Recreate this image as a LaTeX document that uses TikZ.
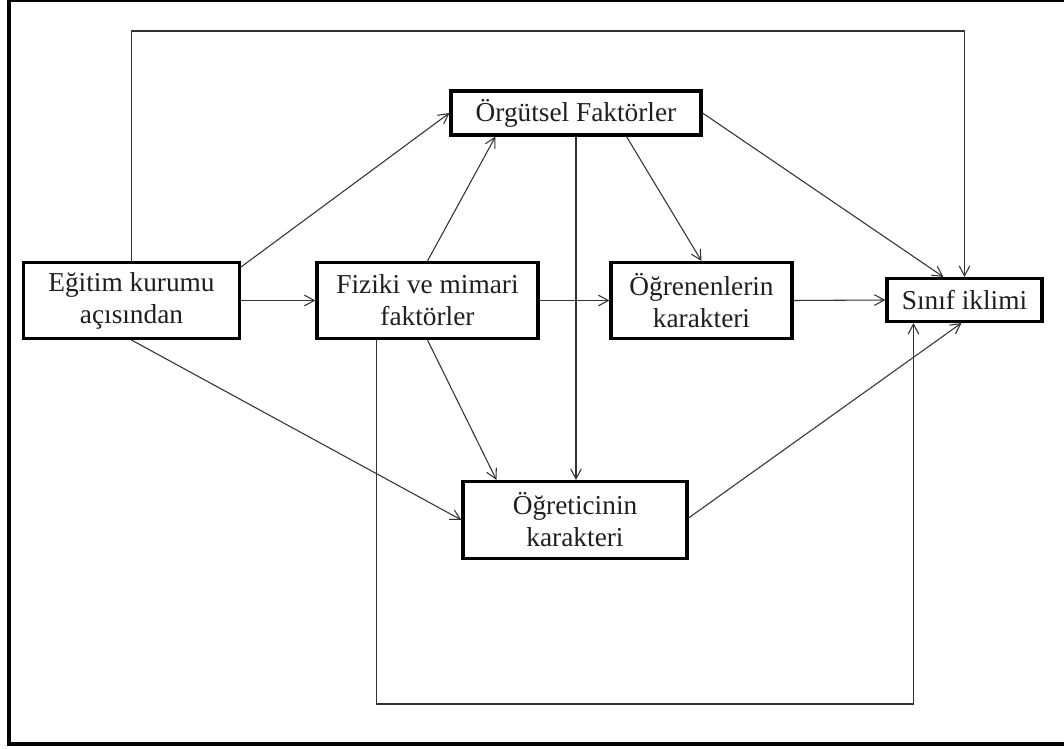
\documentclass[tikz,border=0pt]{standalone}
\usepackage{fontspec}
\setmainfont{Liberation Serif}
\usetikzlibrary{arrows.meta,calc}

\begin{document}
\begin{tikzpicture}[x=0.75pt,y=-0.75pt,
  box/.style={draw=black,line width=2.3pt,fill=white,inner sep=0pt,align=center,
    font=\fontsize{20.5}{24}\selectfont,text=black!88},
  conn/.style={draw=black!80,line width=0.8pt,-{Straight Barb[length=7.5pt,width=8pt]}},
  plain/.style={draw=black!80,line width=0.8pt}]
\useasboundingbox (0,0) rectangle (1064,749);
\clip (0,0) rectangle (1064,749);
% outer frame
\draw[line width=3pt] (8.7,0) rectangle (1075,743.7);

% boxes
\node[box,minimum width=162pt,minimum height=57pt] (egitim) at (131.5,300.5) {Eğitim kurumu\\açısından};
\node[box,minimum width=165.75pt,minimum height=57pt] (fiziki) at (427.5,300.5) {Fiziki ve mimari\\faktörler};
\node[box,minimum width=187.5pt,minimum height=33pt] (orgutsel) at (576,113) {Örgütsel Faktörler};
\node[box,minimum width=135.75pt,minimum height=57pt] (ogrenen) at (701.5,300.5) {Öğrenenlerin\\karakteri};
\node[box,minimum width=116.25pt,minimum height=32.25pt] (sinif) at (964.5,300) {Sınıf iklimi};
\node[box,minimum width=168pt,minimum height=57.75pt] (ogretici) at (575,520) {Öğreticinin\\karakteri};

% routing points of the two outer loops
\coordinate (loopTop) at (500,31);
\coordinate (loopBot) at (600,704);
\coordinate (fizB) at ($(fiziki.south west)+(61,0)$);
\coordinate (sinB) at ($(sinif.south west)+(28,0)$);

% connectors
\draw[conn] (egitim.north) |- (loopTop) -| (sinif.north);
\draw[conn] (egitim.east) -- (fiziki.west);
\draw[conn] ($(egitim.north east)+(0,6)$) -- (orgutsel.west);
\draw[conn] (egitim.south) -- (ogretici.west);
\draw[conn] (fiziki.north) -- ($(orgutsel.south west)+(46,0)$);
\draw[conn] (fiziki.east) -- (ogrenen.west);
\draw[conn] (fiziki.south) -- ($(ogretici.north west)+(35,0)$);
\draw[conn] (fizB) |- (loopBot) -| (sinB);
\draw[conn] (orgutsel.south) -- (orgutsel.south |- ogretici.north);
\draw[conn] ($(orgutsel.south west)+(177,0)$) -- (ogrenen.north);
\draw[conn] (orgutsel.east) -- ($(sinif.north west)+(58,0)$);
\draw[conn] (ogrenen.east) -- (sinif.west);
\draw[conn] ($(ogretici.east)+(0,-2)$) -- ($(sinif.south west)+(76,0)$);
\end{tikzpicture}
\end{document}
